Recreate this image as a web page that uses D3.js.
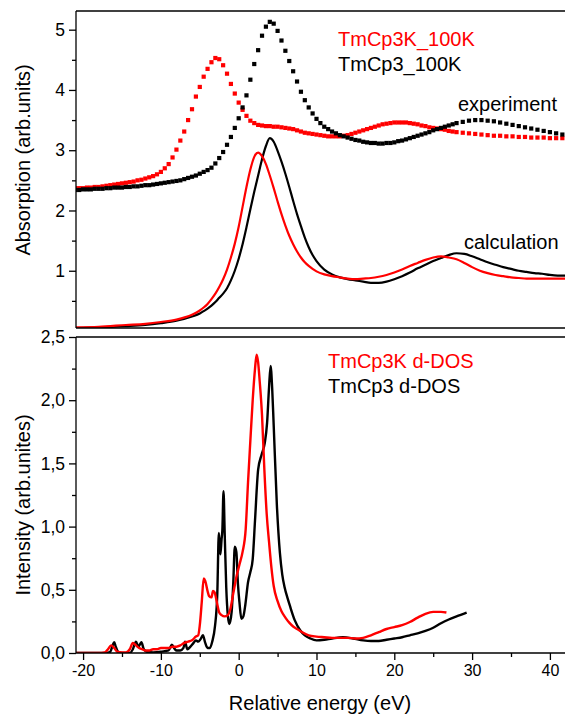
<!DOCTYPE html>
<html>
<head>
<meta charset="utf-8">
<script src="https://cdn.jsdelivr.net/npm/d3@7"></script>
<style>
  html, body { margin: 0; padding: 0; background: #fff; }
  svg { display: block; font-family: Arial, "Liberation Sans", sans-serif; }
</style>
</head>
<body>
<svg id="chart" width="565" height="717"></svg>
<script>
// ---------- data ----------
// Measured absorption (squares), energy grid in eV
const expEnergy = [-21,-20.5,-20,-19.5,-19,-18.5,-18,-17.5,-17,-16.5,-16,-15.5,-15,-14.5,-14,-13.5,-13,-12.5,-12,-11.5,-11,-10.5,-10,-9.5,-9,-8.5,-8,-7.5,-7,-6.5,-6,-5.5,-5,-4.5,-4,-3.5,-3,-2.5,-2,-1.5,-1,-0.5,0,0.5,1,1.5,2,2.5,3,3.5,4,4.5,5,5.5,6,6.5,7,7.5,8,8.5,9,9.5,10,10.5,11,11.5,12,12.5,13,13.5,14,14.5,15,15.5,16,16.5,17,17.5,18,18.5,19,19.5,20,20.5,21,21.5,22,22.5,23,23.5,24,24.5,25,25.5,26,26.5,27,27.5,28,28.8,29.6,30.4,31.2,32,32.8,33.6,34.4,35.2,36,36.8,37.6,38.4,39.2,40,40.8,41.6];
const expTmCp3 = [2.34,2.34,2.35,2.35,2.35,2.36,2.36,2.36,2.37,2.37,
  2.38,2.38,2.38,2.39,2.39,2.40,2.40,2.41,2.42,2.42,
  2.43,2.44,2.45,2.46,2.47,2.48,2.49,2.50,2.52,2.54,
  2.56,2.58,2.61,2.64,2.67,2.71,2.78,2.87,2.97,3.09,
  3.22,3.37,3.53,3.71,3.91,4.17,4.43,4.66,4.90,5.05,
  5.13,5.10,4.98,4.82,4.65,4.48,4.31,4.14,3.97,3.83,
  3.71,3.61,3.52,3.45,3.39,3.35,3.31,3.28,3.25,3.23,
  3.21,3.19,3.17,3.16,3.14,3.13,3.12,3.12,3.11,3.11,
  3.12,3.12,3.13,3.15,3.16,3.18,3.20,3.22,3.24,3.26,
  3.28,3.30,3.33,3.35,3.37,3.39,3.41,3.43,3.45,
  3.47,3.49,3.50,3.50,3.49,3.48,3.46,3.44,3.42,3.40,3.38,3.36,3.34,3.32,3.30,3.28,3.26];
const expTmCp3K = [2.37,2.37,2.37,2.38,2.38,2.39,2.39,2.40,2.41,2.42,
  2.43,2.44,2.45,2.46,2.47,2.48,2.50,2.51,2.53,2.55,
  2.57,2.60,2.64,2.70,2.77,2.88,3.01,3.16,3.31,3.50,
  3.68,3.89,4.05,4.22,4.35,4.46,4.53,4.51,4.41,4.27,
  4.10,3.94,3.79,3.67,3.57,3.49,3.45,3.42,3.41,3.40,
  3.40,3.39,3.39,3.38,3.37,3.36,3.35,3.33,3.31,3.29,
  3.28,3.27,3.26,3.25,3.24,3.23,3.23,3.23,3.23,3.24,
  3.25,3.27,3.29,3.31,3.33,3.35,3.37,3.39,3.41,3.43,
  3.44,3.45,3.46,3.46,3.46,3.46,3.45,3.44,3.43,3.41,
  3.40,3.38,3.37,3.36,3.35,3.34,3.32,3.31,3.30,
  3.29,3.28,3.27,3.26,3.25,3.24,3.24,3.23,3.23,3.22,3.22,3.21,3.21,3.21,3.20,3.20,3.20];

// Calculated absorption (lines)
const calcEnergy = [-21,-18,-14.5,-12,-10,-8,-6,-5,-4.5,-4,-3.5,-3,-2.5,-2,-1.5,-1,-0.5,0,0.5,1,1.5,2,2.5,3,3.5,4,4.5,5,5.5,6,6.5,7,7.5,8,8.5,9,9.5,10,11,12,13,14,15,16,17,18,19,20,21,22,23,24,25,26,27,28,29,30,31,32,33,34,35,36,37,38,39,40,41,42];
const calcTmCp3 = [0.05,0.06,0.08,0.10,0.13,0.17,0.24,0.29,
  0.33,0.37,0.42,0.48,0.55,0.62,0.71,0.84,1.00,1.20,1.44,1.72,2.02,2.31,2.58,2.85,3.07,3.20,3.14,2.99,2.81,2.61,2.39,2.16,1.94,1.74,1.55,1.39,1.26,1.16,
  1.02,0.94,0.89,0.86,0.84,0.82,0.80,0.80,0.82,0.86,0.91,0.97,1.04,1.10,1.16,1.21,1.26,1.29,1.28,1.24,1.19,1.14,1.10,1.06,1.03,1.00,0.98,0.96,0.95,0.93,0.92,0.92];
const calcTmCp3K = [0.06,0.07,0.10,0.12,0.15,0.19,0.27,0.34,
  0.39,0.45,0.53,0.62,0.73,0.86,1.02,1.22,1.45,1.73,2.06,2.39,2.68,2.89,2.96,2.90,2.77,2.58,2.37,2.15,1.94,1.75,1.58,1.44,1.32,1.22,1.14,1.08,1.03,0.99,
  0.94,0.91,0.89,0.87,0.86,0.87,0.88,0.90,0.93,0.97,1.02,1.08,1.13,1.18,1.22,1.24,1.22,1.19,1.13,1.06,1.00,0.96,0.93,0.91,0.89,0.88,0.87,0.87,0.87,0.87,0.87,0.87];

// d-projected density of states
const dosEnergyTmCp3K = [-21,-20,-19,-18,-17.2,-16.8,-16.4,-16.0,-15.6,-15,-14.5,-14.0,-13.6,-13.2,-12.8,-12.4,-12.0,-11.5,-11,-10.5,-10,-9.5,-9,-8.5,-8,-7.5,-7,-6.5,-6,-5.5,-5.2,-5.0,-4.75,-4.5,-4.3,-4.0,-3.8,-3.5,-3.3,-3.1,-2.8,-2.5,-2.2,-1.8,-1.4,-1.1,-0.7,-0.3,0.1,0.5,0.9,1.2,1.5,1.8,2.1,2.3,2.5,2.7,3.0,3.3,3.6,3.9,4.2,4.5,5.0,5.5,6.0,6.5,7.0,7.5,8,9,10,11,12,13,14,15,16,17,18,19,20,21,22,23,24,25,26,26.7];
const dosTmCp3K = [0,0,0,0,0.005,0.03,0.06,0.04,0.01,0.005,0.005,0.03,0.08,0.06,0.04,0.03,0.02,0.02,0.03,0.03,0.04,0.04,0.04,0.05,0.05,0.06,0.08,0.09,0.10,0.13,0.14,0.22,0.40,0.59,0.57,0.49,0.45,0.44,0.49,0.48,0.40,0.32,0.30,0.29,0.30,0.34,0.47,0.60,0.70,0.80,0.98,1.35,1.68,2.00,2.25,2.36,2.30,2.15,1.88,1.45,1.10,0.88,0.68,0.53,0.41,0.33,0.28,0.24,0.21,0.19,0.17,0.14,0.13,0.125,0.12,0.12,0.12,0.115,0.12,0.14,0.165,0.19,0.205,0.22,0.245,0.28,0.31,0.325,0.325,0.32];
const dosEnergyTmCp3 = [-21,-18,-17,-16.5,-16.2,-16.0,-15.8,-15.5,-15,-14,-13.6,-13.2,-12.9,-12.5,-12.2,-11.8,-11,-10,-9.5,-9,-8.6,-8.2,-8,-7.5,-7.1,-6.9,-6.6,-6.2,-5.8,-5.5,-5.2,-4.9,-4.6,-4.3,-4.0,-3.7,-3.4,-3.05,-2.75,-2.55,-2.35,-2.2,-2.1,-1.95,-1.8,-1.6,-1.4,-1.2,-0.9,-0.7,-0.5,-0.3,-0.1,0.1,0.35,0.6,0.85,1.2,1.5,1.8,2.1,2.5,2.95,3.35,3.65,3.9,4.1,4.3,4.5,4.9,5.3,5.6,5.9,6.3,6.6,7.2,7.9,8.5,9.2,10,11,12,13.4,14.7,16,17,18,19,20,21,22,23,24,25,26,27,28,29.3];
const dosTmCp3 = [0,0,0,0.01,0.06,0.085,0.05,0.01,0,0,0.03,0.09,0.05,0.085,0.03,0.01,0.005,0.01,0.015,0.02,0.065,0.03,0.02,0.02,0.04,0.09,0.03,0.05,0.08,0.10,0.09,0.11,0.14,0.08,0.04,0.04,0.09,0.21,0.47,0.95,0.78,0.90,0.97,1.28,0.95,0.52,0.30,0.23,0.33,0.55,0.84,0.80,0.55,0.40,0.27,0.29,0.38,0.56,0.64,0.74,1.05,1.45,1.57,1.66,1.82,2.10,2.27,2.10,1.80,1.18,0.79,0.62,0.52,0.43,0.37,0.26,0.18,0.14,0.115,0.10,0.105,0.115,0.125,0.115,0.10,0.095,0.095,0.105,0.115,0.125,0.14,0.155,0.175,0.20,0.235,0.265,0.29,0.32];

// Axis ticks and labels
const energyTicks = [-20,-10,0,10,20,30,40];
const energyMinorTicks = [-15,-5,5,15,25,35];
const absorptionTicks = [1,2,3,4,5];
const absorptionMinorTicks = [0.5,1.5,2.5,3.5,4.5];
const intensityTicks = [0,0.5,1,1.5,2,2.5];
const intensityTickLabels = ["0,0","0,5","1,0","1,5","2,0","2,5"];
const intensityMinorTicks = [0.25,0.75,1.25,1.75,2.25];

// ---------- layout ----------
const svg = d3.select("#chart");
const left = 76, right = 565;
const topPanel = {top: 11, bottom: 328};
const botPanel = {top: 337, bottom: 653};
const RED = "#ff0000", BLACK = "#000000";

const x = d3.scaleLinear().domain([-20.91, 41.94]).range([left, right]);
const yAbs = d3.scaleLinear().domain([0.05, 5.31]).range([topPanel.bottom, topPanel.top]);
const yDos = d3.scaleLinear().domain([0, 2.5]).range([botPanel.bottom, botPanel.top]);

const defs = svg.append("defs");
defs.append("clipPath").attr("id", "clipTop").append("rect")
  .attr("x", left).attr("y", topPanel.top).attr("width", right - left).attr("height", topPanel.bottom - topPanel.top);
defs.append("clipPath").attr("id", "clipBot").append("rect")
  .attr("x", left).attr("y", botPanel.top).attr("width", right - left).attr("height", botPanel.bottom - botPanel.top);

// ---------- top panel: absorption ----------
const gTop = svg.append("g").attr("clip-path", "url(#clipTop)");

function squares(energy, values, color) {
  const pts = energy.map((e, i) => [e, values[i]]);
  const s = 4.2;
  gTop.append("g").selectAll("rect").data(pts).join("rect")
    .attr("x", d => x(d[0]) - s / 2)
    .attr("y", d => yAbs(d[1]) - s / 2)
    .attr("width", s).attr("height", s)
    .attr("fill", color);
}
squares(expEnergy, expTmCp3K, RED);
squares(expEnergy, expTmCp3, BLACK);

const lineAbs = d3.line().x(d => x(d[0])).y(d => yAbs(d[1])).curve(d3.curveMonotoneX);
gTop.append("path").datum(calcEnergy.map((e, i) => [e, calcTmCp3[i]]))
  .attr("d", lineAbs).attr("fill", "none").attr("stroke", BLACK).attr("stroke-width", 2.2);
gTop.append("path").datum(calcEnergy.map((e, i) => [e, calcTmCp3K[i]]))
  .attr("d", lineAbs).attr("fill", "none").attr("stroke", RED).attr("stroke-width", 2.2);

// ---------- bottom panel: d-DOS ----------
const gBot = svg.append("g").attr("clip-path", "url(#clipBot)");
const lineDos = d3.line().x(d => x(d[0])).y(d => yDos(d[1])).curve(d3.curveMonotoneX);
gBot.append("path").datum(dosEnergyTmCp3.map((e, i) => [e, dosTmCp3[i]]))
  .attr("d", lineDos).attr("fill", "none").attr("stroke", BLACK).attr("stroke-width", 2.4).attr("stroke-linejoin", "round");
gBot.append("path").datum(dosEnergyTmCp3K.map((e, i) => [e, dosTmCp3K[i]]))
  .attr("d", lineDos).attr("fill", "none").attr("stroke", RED).attr("stroke-width", 2.4).attr("stroke-linejoin", "round");

// ---------- frames and axes ----------
const frame = svg.append("g").attr("stroke", "#000").attr("stroke-width", 1.3).attr("fill", "none");
[topPanel, botPanel].forEach(p => {
  frame.append("line").attr("x1", left).attr("x2", left).attr("y1", p.top).attr("y2", p.bottom);
  frame.append("line").attr("x1", left).attr("x2", right).attr("y1", p.top).attr("y2", p.top);
  frame.append("line").attr("x1", left).attr("x2", right).attr("y1", p.bottom).attr("y2", p.bottom);
});

function styleAxis(g, fontSize) {
  g.select(".domain").remove();
  g.selectAll(".tick line").attr("stroke", "#000").attr("stroke-width", 1.3);
  g.selectAll(".tick text").attr("font-size", fontSize).attr("fill", "#000")
    .attr("font-family", "Arial, 'Liberation Sans', sans-serif");
}

// top y axis
svg.append("g").attr("transform", `translate(${left},0)`)
  .call(d3.axisLeft(yAbs).tickValues(absorptionTicks).tickSize(7).tickPadding(4).tickFormat(d => String(d)))
  .call(g => styleAxis(g, 17.5));
svg.append("g").attr("transform", `translate(${left},0)`)
  .call(d3.axisLeft(yAbs).tickValues(absorptionMinorTicks).tickSize(4).tickFormat(""))
  .call(g => styleAxis(g, 0));

// bottom y axis
svg.append("g").attr("transform", `translate(${left},0)`)
  .call(d3.axisLeft(yDos).tickValues(intensityTicks).tickSize(7).tickPadding(4)
    .tickFormat((d, i) => intensityTickLabels[i]))
  .call(g => styleAxis(g, 17.5));
svg.append("g").attr("transform", `translate(${left},0)`)
  .call(d3.axisLeft(yDos).tickValues(intensityMinorTicks).tickSize(4).tickFormat(""))
  .call(g => styleAxis(g, 0));

// x axis
svg.append("g").attr("transform", `translate(0,${botPanel.bottom})`)
  .call(d3.axisBottom(x).tickValues(energyTicks).tickSize(7).tickPadding(5).tickFormat(d => String(d)))
  .call(g => styleAxis(g, 16));
svg.append("g").attr("transform", `translate(0,${botPanel.bottom})`)
  .call(d3.axisBottom(x).tickValues(energyMinorTicks).tickSize(4).tickFormat(""))
  .call(g => styleAxis(g, 0));

// ---------- titles and labels ----------
const txt = svg.append("g").attr("font-family", "Arial, 'Liberation Sans', sans-serif");
txt.append("text").attr("x", 320).attr("y", 710).attr("text-anchor", "middle")
  .attr("font-size", 20).text("Relative energy (eV)");
txt.append("text").attr("transform", "translate(30,160) rotate(-90)").attr("text-anchor", "middle")
  .attr("font-size", 20).text("Absorption (arb.units)");
txt.append("text").attr("transform", "translate(30,505) rotate(-90)").attr("text-anchor", "middle")
  .attr("font-size", 20).text("Intensity (arb.unites)");

txt.append("text").attr("x", 338).attr("y", 46).attr("font-size", 20).attr("fill", RED).text("TmCp3K_100K");
txt.append("text").attr("x", 338).attr("y", 71).attr("font-size", 20).attr("fill", BLACK).text("TmCp3_100K");
txt.append("text").attr("x", 458).attr("y", 111).attr("font-size", 20).attr("fill", BLACK).text("experiment");
txt.append("text").attr("x", 464).attr("y", 249).attr("font-size", 20).attr("fill", BLACK).text("calculation");
txt.append("text").attr("x", 328).attr("y", 368).attr("font-size", 20).attr("fill", RED).text("TmCp3K d-DOS");
txt.append("text").attr("x", 328).attr("y", 393).attr("font-size", 20).attr("fill", BLACK).text("TmCp3 d-DOS");
</script>
</body>
</html>
